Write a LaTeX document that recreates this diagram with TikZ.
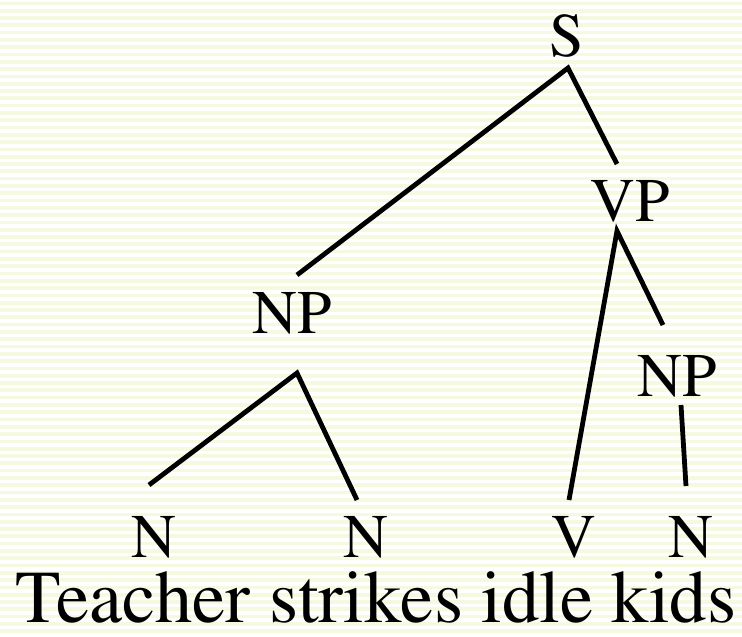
\documentclass[tikz,border=0pt]{standalone}
\usepackage[T1]{fontenc}
\usepackage{times}
\definecolor{stripecol}{RGB}{245,249,224}
\tikzset{
  lbl/.style={font=\rmfamily\fontsize{62}{62}\selectfont, anchor=base, inner sep=0pt},
  sent/.style={font=\rmfamily\fontsize{74.5}{75}\selectfont, anchor=base, inner sep=0pt},
  edge/.style={line width=4.8pt, black}
}
\begin{document}
\begin{tikzpicture}[x=1pt,y=-1pt]
\useasboundingbox (0,0) rectangle (742,637);
\fill[white] (0,0) rectangle (742,637);
\foreach \i in {0,...,87} {
  \fill[stripecol] (0,\i*7.3+1.5) rectangle (742,\i*7.3+5.2);
}
% labels
\node[lbl] (S) at (567,56) {S};
\node[lbl] (VP) at (630,221) {VP};
\node[lbl] (NPa) at (292,333) {NP};
\node[lbl] (NPb) at (677,396) {NP};
\node[lbl] (Na) at (154,557) {N};
\node[lbl] (Nb) at (366,557) {N};
\node[lbl] (V) at (574,557) {V};
\node[lbl] (Nc) at (691,557) {N};
\node[sent] (sentence) at (376,622) {Teacher strikes idle kids};
% connector end points
\coordinate (S-bot) at (568,68);
\coordinate (NPa-top) at (297,275);
\coordinate (VP-top) at (617,164);
\coordinate (VP-bot) at (617,231);
\coordinate (NPb-top) at (663,325);
\coordinate (V-top) at (569,500);
\coordinate (NPa-bot) at (297,373);
\coordinate (Na-top) at (149,485);
\coordinate (Nb-top) at (357,500);
\coordinate (NPb-bot) at (681,405);
\coordinate (Nc-top) at (686,486);
% connectors
\draw[edge] (NPa-top) -- (S-bot) -- (VP-top);
\draw[edge] (V-top) -- (VP-bot) -- (NPb-top);
\draw[edge] (Na-top) -- (NPa-bot) -- (Nb-top);
\draw[edge] (NPb-bot) -- (Nc-top);
\end{tikzpicture}
\end{document}
